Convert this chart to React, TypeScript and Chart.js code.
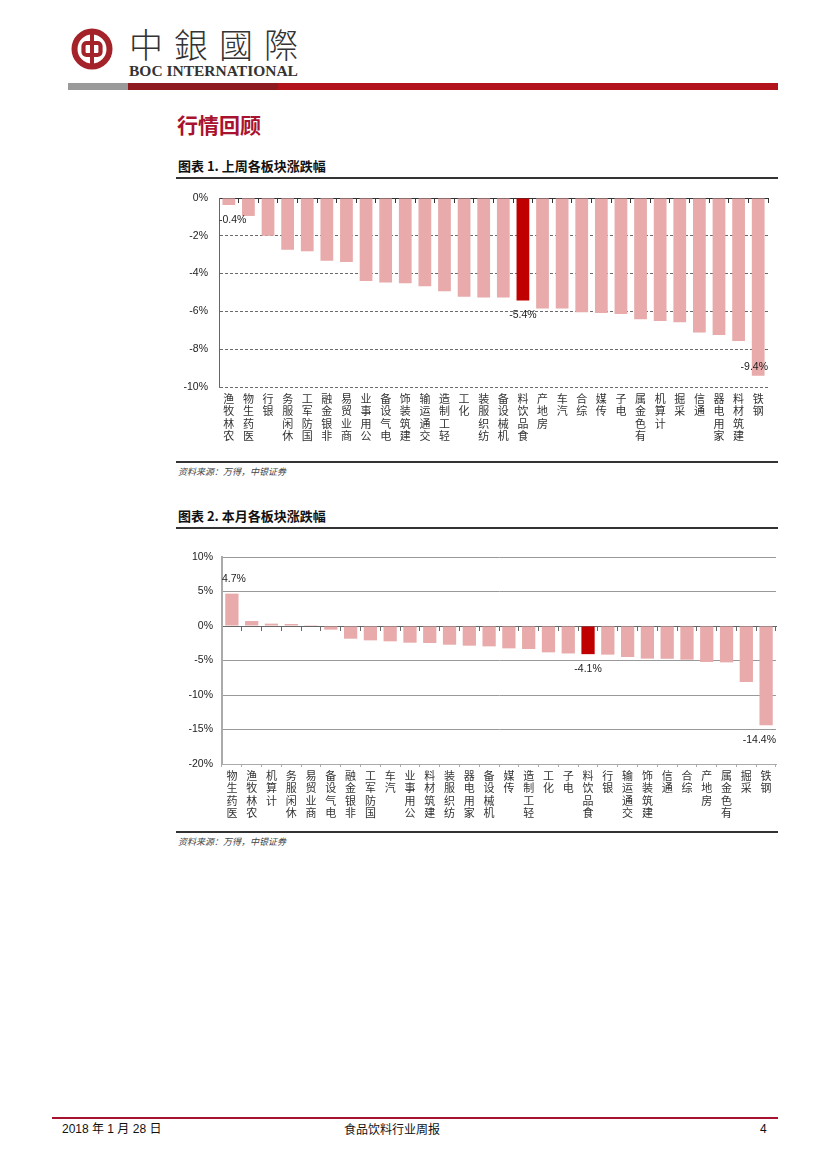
import React, { useEffect, useRef } from 'react';
import { Chart, registerables } from 'chart.js';

Chart.register(...registerables);

// ---------- data ----------
const weeklyCategories = [
  '农林牧渔', '医药生物', '银行', '休闲服务', '国防军工', '非银金融', '商业贸易',
  '公用事业', '电气设备', '建筑装饰', '交通运输', '轻工制造', '化工', '纺织服装',
  '机械设备', '食品饮料', '房地产', '汽车', '综合', '传媒', '电子', '有色金属',
  '计算机', '采掘', '通信', '家用电器', '建筑材料', '钢铁',
];
const weeklyValues = [
  -0.37, -0.95, -2.0, -2.74, -2.82, -3.32, -3.39,
  -4.39, -4.47, -4.51, -4.67, -4.93, -5.23, -5.26,
  -5.27, -5.42, -5.84, -5.85, -6.04, -6.09, -6.14, -6.42,
  -6.51, -6.58, -7.12, -7.25, -7.56, -9.4,
];
const weeklyYRange = [-10, 0];
const weeklyYStep = 2;

const monthlyCategories = [
  '医药生物', '农林牧渔', '计算机', '休闲服务', '商业贸易', '电气设备', '非银金融',
  '国防军工', '汽车', '公用事业', '建筑材料', '纺织服装', '家用电器', '机械设备',
  '传媒', '轻工制造', '化工', '电子', '食品饮料', '银行', '交通运输', '建筑装饰',
  '通信', '综合', '房地产', '有色金属', '采掘', '钢铁',
];
const monthlyValues = [
  4.69, 0.72, 0.34, 0.29, 0.02, -0.53, -1.84,
  -2.08, -2.22, -2.42, -2.46, -2.71, -2.85, -2.95,
  -3.24, -3.33, -3.82, -3.98, -4.08, -4.15, -4.49, -4.73,
  -4.75, -4.88, -5.22, -5.27, -8.12, -14.4,
];
const monthlyYRange = [-20, 10];
const monthlyYStep = 5;

const highlightCategory = '食品饮料';

// ---------- styles ----------
const PINK = '#e8aaaa';
const RED = '#c00000';
const NUM_FONT = '"Liberation Sans", Arial, sans-serif';
const CJK_FONT = '"Noto Sans CJK SC", "Noto Sans", sans-serif';

const valueLabelPlugin = {
  id: 'valueLabels',
  afterDatasetsDraw(chart: any, _args: any, opts: any) {
    const { ctx, chartArea } = chart;
    const meta = chart.getDatasetMeta(0);
    const data = chart.data.datasets[0].data as number[];
    const idxs: number[] = opts.indices || [];
    ctx.save();
    ctx.font = `10.5px ${NUM_FONT}`;
    ctx.fillStyle = '#222';
    ctx.textAlign = 'center';
    ctx.textBaseline = 'middle';
    idxs.forEach((i) => {
      const bar = meta.data[i];
      if (!bar) return;
      const v = data[i];
      const text = v.toFixed(1) + '%';
      const w = ctx.measureText(text).width;
      let x = bar.x;
      x = Math.max(chartArea.left + w / 2, Math.min(chartArea.right - w / 2, x));
      let y = v < 0 ? bar.y + 15 : bar.y - 15;
      if (y > chartArea.bottom - 20) y = chartArea.bottom - 20;
      ctx.fillText(text, x, y);
    });
    ctx.restore();
  },
};

type ChartProps = {
  categories: string[];
  values: number[];
  yRange: number[];
  yStep: number;
  variant: 'weekly' | 'monthly';
  left: number;
  top: number;
  width: number;
  height: number;
};

function BarChart(p: ChartProps) {
  const ref = useRef<HTMLCanvasElement | null>(null);
  useEffect(() => {
    if (!ref.current) return;
    const weekly = p.variant === 'weekly';
    const hi = p.categories.indexOf(highlightCategory);
    const colors = p.categories.map((c) => (c === highlightCategory ? RED : PINK));
    const chart = new Chart(ref.current, {
      type: 'bar',
      data: {
        labels: p.categories,
        datasets: [
          {
            data: p.values,
            backgroundColor: colors,
            borderWidth: 0,
            barPercentage: weekly ? 0.65 : 0.67,
            categoryPercentage: 1,
            xAxisID: 'x',
            yAxisID: 'y',
          },
        ],
      },
      plugins: [valueLabelPlugin],
      options: {
        animation: false,
        responsive: true,
        maintainAspectRatio: false,
        layout: { padding: { top: 12, right: weekly ? 12 : 4, left: 0, bottom: 0 } },
        plugins: {
          legend: { display: false },
          tooltip: { enabled: false },
          valueLabels: { indices: [0, hi, p.categories.length - 1] },
        } as any,
        scales: {
          x: {
            type: 'category',
            position: 'bottom',
            offset: true,
            grid: {
              display: !weekly,
              offset: true,
              drawOnChartArea: false,
              drawTicks: !weekly,
              tickLength: 3,
              color: '#aaa',
            },
            border: { display: !weekly, color: '#aaa', width: 1 },
            ticks: {
              autoSkip: false,
              maxRotation: 0,
              minRotation: 0,
              padding: weekly ? 5 : 2,
              color: '#333',
              font: { family: CJK_FONT, size: 11, lineHeight: 1.15 },
              callback: function (this: any, value: any) {
                return Array.from(String(this.getLabelForValue(value))).reverse();
              },
            },
            afterFit: (scale: any) => {
              scale.height = weekly ? 69 : 64;
            },
          },
          xz: {
            type: 'category',
            axis: 'x',
            position: { y: 0 },
            offset: true,
            grid: {
              display: true,
              offset: true,
              drawOnChartArea: false,
              drawTicks: true,
              tickLength: 4,
              color: weekly ? '#333' : '#666',
            },
            border: { display: true, color: weekly ? '#333' : '#666', width: 1 },
            ticks: { display: false, padding: 0 },
          },
          y: {
            type: 'linear',
            min: p.yRange[0],
            max: p.yRange[1],
            ticks: {
              stepSize: p.yStep,
              padding: 1,
              color: '#222',
              font: { family: NUM_FONT, size: 10.5 },
              callback: (v: any) => `${v}%`,
            },
            grid: {
              drawTicks: true,
              tickLength: weekly ? 10 : 8,
              tickColor: 'rgba(0,0,0,0)',
              color: weekly ? '#444' : '#999',
              lineWidth: weekly ? 0.8 : 1,
            },
            border: {
              display: true,
              color: weekly ? '#666' : '#aaa',
              width: weekly ? 1 : 2,
              dash: weekly ? [3, 2] : [],
            },
            afterFit: (scale: any) => {
              scale.width = weekly ? 49 : 52;
            },
          },
        } as any,
      },
    });
    return () => chart.destroy();
  }, []);
  return (
    <div
      style={{
        position: 'absolute',
        left: p.left,
        top: p.top,
        width: p.width,
        height: p.height,
      }}
    >
      <canvas ref={ref} />
    </div>
  );
}

const abs = (o: React.CSSProperties): React.CSSProperties => ({ position: 'absolute', ...o });

function Logo() {
  return (
    <svg style={abs({ left: 70, top: 27, width: 44, height: 44 })} viewBox="0 0 44 44">
      <circle cx="22" cy="22" r="17.5" fill="none" stroke="#a4232a" strokeWidth="6" />
      <rect x="13.5" y="16" width="17" height="12" rx="3" fill="none" stroke="#a4232a" strokeWidth="4.2" />
      <rect x="20" y="4" width="4" height="36" fill="#a4232a" />
    </svg>
  );
}

export default function App() {
  return (
    <div
      style={{
        position: 'absolute',
        left: 0,
        top: 0,
        width: 827,
        height: 1169,
        background: '#fff',
        overflow: 'hidden',
        fontFamily: CJK_FONT,
        color: '#111',
      }}
    >
      <Logo />
      <div
        style={abs({
          left: 129,
          top: 24,
          fontSize: 34,
          letterSpacing: 11,
          lineHeight: '40px',
          fontWeight: 300,
          color: '#333',
          fontFamily: '"Noto Sans CJK TC", sans-serif',
          whiteSpace: 'nowrap',
        })}
      >
        中銀國際
      </div>
      <div
        style={abs({
          left: 129,
          top: 62,
          fontSize: 15.5,
          lineHeight: '18px',
          fontWeight: 'bold',
          color: '#333',
          fontFamily: '"Liberation Serif", serif',
          whiteSpace: 'nowrap',
        })}
      >
        BOC INTERNATIONAL
      </div>
      <div style={abs({ left: 68, top: 83, width: 60, height: 7, background: '#9a9a9a' })} />
      <div style={abs({ left: 128, top: 83, width: 150, height: 7, background: '#8e1b1f' })} />
      <div style={abs({ left: 278, top: 83, width: 500, height: 7, background: '#b3141c' })} />

      <div
        style={abs({
          left: 177,
          top: 110,
          fontSize: 21,
          lineHeight: '28px',
          fontWeight: 'bold',
          color: '#a8122e',
          whiteSpace: 'nowrap',
        })}
      >
        行情回顾
      </div>

      <div style={abs({ left: 178, top: 157, fontSize: 13, lineHeight: '18px', fontWeight: 'bold', whiteSpace: 'nowrap' })}>
        图表 1. 上周各板块涨跌幅
      </div>
      <div style={abs({ left: 176, top: 177, width: 602, height: 2, background: '#333' })} />

      <BarChart
        categories={weeklyCategories}
        values={weeklyValues}
        yRange={weeklyYRange}
        yStep={weeklyYStep}
        variant="weekly"
        left={170}
        top={186}
        width={610}
        height={270}
      />

      <div style={abs({ left: 176, top: 461, width: 602, height: 2, background: '#333' })} />
      <div
        style={abs({
          left: 178,
          top: 466,
          fontSize: 9,
          lineHeight: '12px',
          fontStyle: 'italic',
          color: '#444',
          whiteSpace: 'nowrap',
        })}
      >
        资料来源：万得，中银证券
      </div>

      <div style={abs({ left: 178, top: 507, fontSize: 13, lineHeight: '18px', fontWeight: 'bold', whiteSpace: 'nowrap' })}>
        图表 2. 本月各板块涨跌幅
      </div>
      <div style={abs({ left: 176, top: 527, width: 602, height: 2, background: '#333' })} />

      <BarChart
        categories={monthlyCategories}
        values={monthlyValues}
        yRange={monthlyYRange}
        yStep={monthlyYStep}
        variant="monthly"
        left={170}
        top={545}
        width={610}
        height={283}
      />

      <div style={abs({ left: 176, top: 831, width: 602, height: 2, background: '#333' })} />
      <div
        style={abs({
          left: 178,
          top: 836,
          fontSize: 9,
          lineHeight: '12px',
          fontStyle: 'italic',
          color: '#444',
          whiteSpace: 'nowrap',
        })}
      >
        资料来源：万得，中银证券
      </div>

      <div style={abs({ left: 52, top: 1117, width: 726, height: 2, background: '#a8122e' })} />
      <div
        style={abs({
          left: 62,
          top: 1121,
          fontSize: 12,
          lineHeight: '16px',
          color: '#111',
          whiteSpace: 'nowrap',
          fontFamily: '"Liberation Sans Narrow", "Liberation Sans", "Noto Sans CJK SC", sans-serif',
        })}
      >
        2018 年 1 月 28 日
      </div>
      <div
        style={abs({
          left: 292,
          top: 1121,
          width: 200,
          textAlign: 'center',
          fontSize: 12,
          lineHeight: '16px',
          color: '#111',
          whiteSpace: 'nowrap',
        })}
      >
        食品饮料行业周报
      </div>
      <div
        style={abs({
          left: 760,
          top: 1121,
          fontSize: 12,
          lineHeight: '16px',
          color: '#111',
          fontFamily: '"Liberation Sans Narrow", "Liberation Sans", sans-serif',
        })}
      >
        4
      </div>
    </div>
  );
}
